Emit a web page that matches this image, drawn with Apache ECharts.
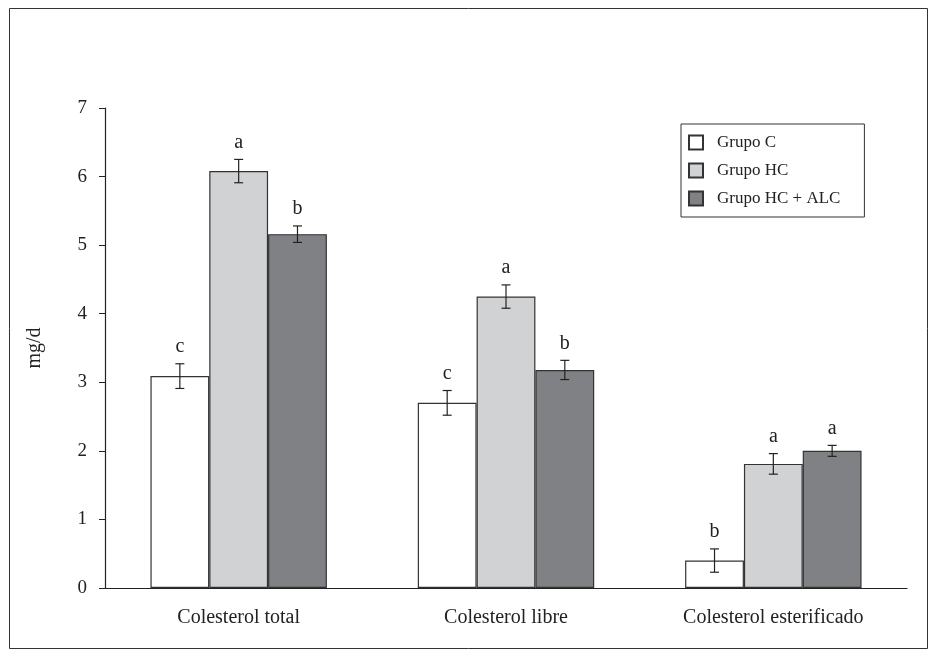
<!DOCTYPE html>
<html>
<head>
<meta charset="utf-8">
<script src="https://cdn.jsdelivr.net/npm/echarts@6/dist/echarts.min.js"></script>
<style>
  html, body { margin: 0; padding: 0; background: #fff; }
  #chart { width: 936px; height: 656px; }
</style>
</head>
<body>
<div id="chart"></div>
<script>
const categories = ['Colesterol total', 'Colesterol libre', 'Colesterol esterificado'];
const seriesNames = ['Grupo C', 'Grupo HC', 'Grupo HC + ALC'];
const grupoC = [3.09, 2.70, 0.40];
const grupoHC = [6.08, 4.25, 1.81];
const grupoALC = [5.16, 3.18, 2.00];
const errC = [0.18, 0.18, 0.17];
const errHC = [0.17, 0.17, 0.15];
const errALC = [0.12, 0.14, 0.08];
const letrasC = ['c', 'c', 'b'];
const letrasHC = ['a', 'a', 'a'];
const letrasALC = ['b', 'b', 'a'];
const yTicks = [0, 1, 2, 3, 4, 5, 6, 7];

const FONT = "'Liberation Serif', 'DejaVu Serif', serif";
const colors = ['#ffffff', '#d1d2d4', '#808184'];
const GAP = 0.34;

const values = [grupoC, grupoHC, grupoALC];
const errs = [errC, errHC, errALC];
const letras = [letrasC, letrasHC, letrasALC];

function errorSeries(k) {
    return {
        type: 'custom',
        z: 5,
        data: values[k].map((v, i) => [i, v, errs[k][i]]),
        encode: { x: 0, y: 1 },
        renderItem: function (params, api) {
            const i = api.value(0);
            const v = api.value(1);
            const e = api.value(2);
            const band = api.size([1, 0])[0];
            const bw = band * (1 - GAP) / 3;
            const cx = api.coord([i, v])[0] + (k - 1) * bw;
            const yHi = api.coord([i, v + e])[1];
            const yLo = api.coord([i, v - e])[1];
            const st = { stroke: '#222', lineWidth: 1.2 };
            const cap = 4.5;
            return {
                type: 'group',
                children: [
                    { type: 'line', shape: { x1: cx, y1: yHi, x2: cx, y2: yLo }, style: st },
                    { type: 'line', shape: { x1: cx - cap, y1: yHi, x2: cx + cap, y2: yHi }, style: st },
                    { type: 'line', shape: { x1: cx - cap, y1: yLo, x2: cx + cap, y2: yLo }, style: st },
                    {
                        type: 'text',
                        style: {
                            x: cx, y: yHi - 7,
                            text: letras[k][params.dataIndex],
                            align: 'center', verticalAlign: 'bottom',
                            font: '20px ' + FONT, fill: '#222'
                        }
                    }
                ]
            };
        }
    };
}

let chart = echarts.init(document.getElementById('chart'));
let option = {
    backgroundColor: '#fff',
    animation: false,
    textStyle: { fontFamily: FONT },
    graphic: [{
        type: 'rect',
        shape: { x: 9.5, y: 8.5, width: 918, height: 640 },
        style: { fill: 'none', stroke: '#333', lineWidth: 1 },
        silent: true
    }],
    grid: { left: 105, right: 29, top: 108, bottom: 68 },
    legend: {
        orient: 'vertical',
        left: 681,
        top: 124,
        padding: [10, 24, 10, 7],
        itemGap: 11,
        itemWidth: 14,
        itemHeight: 14,
        icon: 'rect',
        borderColor: '#333',
        borderWidth: 1,
        textStyle: { fontFamily: FONT, fontSize: 17, color: '#222', padding: [0, 0, 0, 9] },
        data: seriesNames
    },
    xAxis: {
        type: 'category',
        data: categories,
        axisLine: { lineStyle: { color: '#222', width: 1.2 } },
        axisTick: { show: false },
        axisLabel: { fontFamily: FONT, fontSize: 20, color: '#222', margin: 20 }
    },
    yAxis: {
        type: 'value',
        min: 0,
        max: 7,
        interval: 1,
        name: 'mg/d',
        nameLocation: 'middle',
        nameGap: 60,
        nameTextStyle: { fontFamily: FONT, fontSize: 20, color: '#222' },
        axisLine: { show: true, lineStyle: { color: '#222', width: 1.2 } },
        axisTick: { show: true, length: 6, lineStyle: { color: '#222' } },
        axisLabel: {
            fontFamily: FONT, fontSize: 19, color: '#222', margin: 18,
            formatter: v => (yTicks.indexOf(v) >= 0 ? String(v) : '')
        },
        splitLine: { show: false }
    },
    series: [0, 1, 2].map(k => ({
        name: seriesNames[k],
        type: 'bar',
        data: values[k],
        barGap: '0%',
        barCategoryGap: (GAP * 100) + '%',
        itemStyle: { color: colors[k], borderColor: '#333', borderWidth: 1.2 }
    })).concat([0, 1, 2].map(errorSeries))
};
chart.setOption(option);
</script>
</body>
</html>
